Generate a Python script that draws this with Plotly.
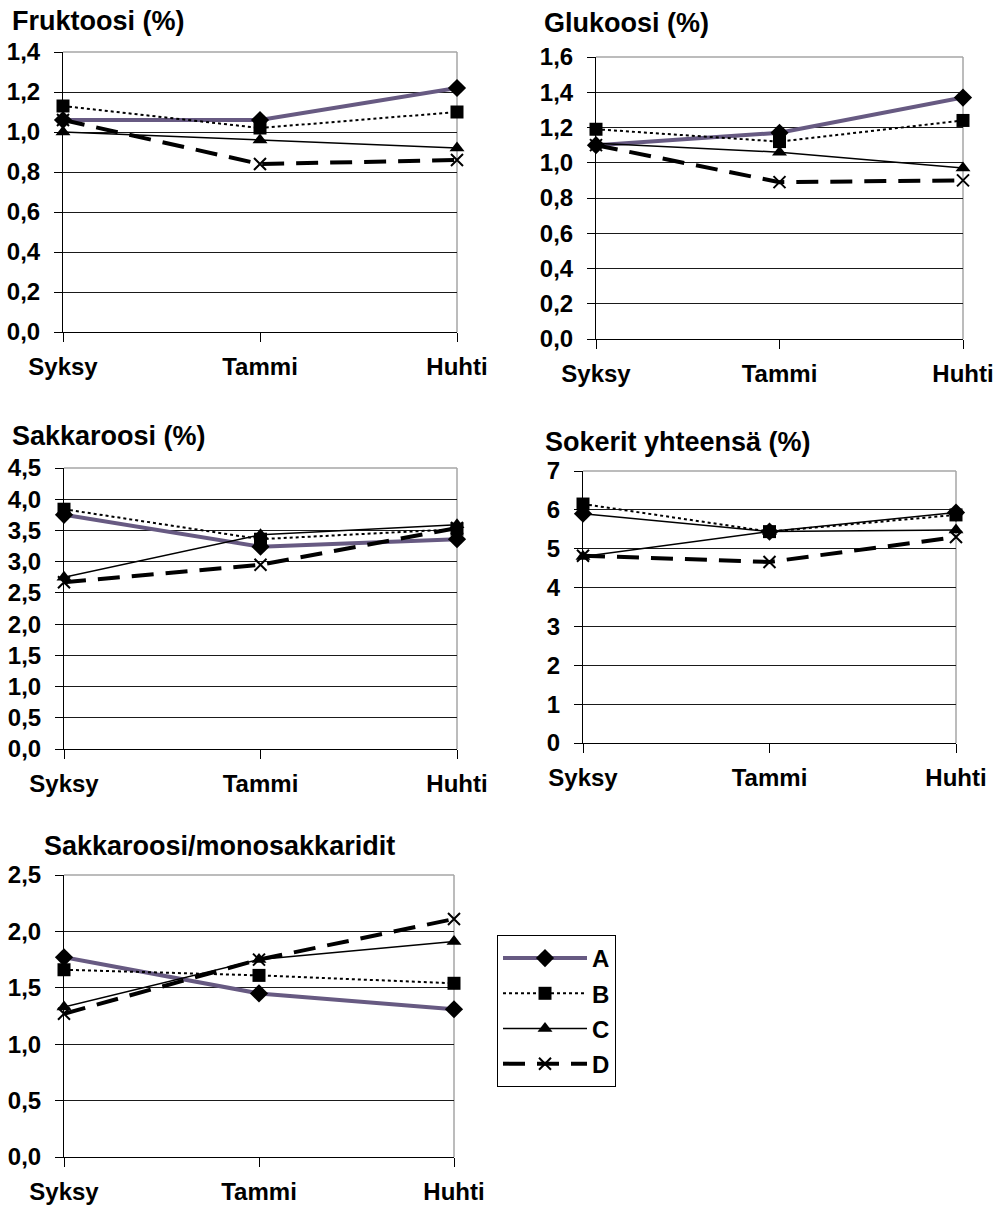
import plotly.graph_objects as go

categories = ["Syksy", "Tammi", "Huhti"]
series_names = ["A", "B", "C", "D"]

fruktoosi = {"A": [1.06, 1.06, 1.22], "B": [1.13, 1.02, 1.10], "C": [1.00, 0.96, 0.92], "D": [1.06, 0.84, 0.86]}
glukoosi = {"A": [1.10, 1.17, 1.37], "B": [1.19, 1.12, 1.24], "C": [1.11, 1.06, 0.97], "D": [1.10, 0.89, 0.90]}
sakkaroosi = {"A": [3.75, 3.24, 3.36], "B": [3.84, 3.36, 3.52], "C": [2.75, 3.43, 3.59], "D": [2.67, 2.95, 3.54]}
sokerit = {"A": [5.90, 5.44, 5.93], "B": [6.15, 5.44, 5.87], "C": [4.80, 5.44, 5.48], "D": [4.82, 4.66, 5.30]}
suhde = {"A": [1.77, 1.45, 1.31], "B": [1.66, 1.61, 1.54], "C": [1.33, 1.75, 1.91], "D": [1.27, 1.75, 2.11]}

titles = ["Fruktoosi (%)", "Glukoosi (%)", "Sakkaroosi (%)", "Sokerit yhteensä (%)", "Sakkaroosi/monosakkaridit"]
panels = [fruktoosi, glukoosi, sakkaroosi, sokerit, suhde]
y_max = [1.4, 1.6, 4.5, 7, 2.5]
y_step = [0.2, 0.2, 0.5, 1, 0.5]
y_fmt = [".1f", ".1f", ".1f", "d", ".1f"]

W, H = 1002, 1208
# plot area boxes in pixels: (left, right, top, bottom)
boxes = [(63, 457, 52, 332), (596, 963, 57, 339), (64, 457, 468, 749), (583, 956, 471, 743), (64, 454, 875, 1157)]
title_pos = [(10, 21), (542, 23), (10, 436), (543, 442), (42, 846)]

PURPLE = "#675a82"
FONT = "Liberation Sans"

styles = {
    "A": dict(line=dict(color=PURPLE, width=4), marker=dict(symbol="diamond", size=14, color="black")),
    "B": dict(line=dict(color="black", width=2, dash="dot"), marker=dict(symbol="square", size=13, color="black")),
    "C": dict(line=dict(color="black", width=1.5), marker=dict(symbol="triangle-up", size=13, color="black")),
    "D": dict(line=dict(color="black", width=4, dash="22px,12px"),
              marker=dict(symbol="x-thin", size=12, color="black", line=dict(color="black", width=2))),
}

fig = go.Figure()
layout = {}
shapes = []
annotations = []
xpos = [0, 1, 2]

for i, (data, box) in enumerate(zip(panels, boxes)):
    n = "" if i == 0 else str(i + 1)
    xa, ya = "x" + n, "y" + n
    l, r, t, b = box
    for s in series_names:
        st = {k: dict(v) for k, v in styles[s].items()}
        if i == 3 and s == "A":
            st["line"] = dict(color="black", width=1.5)
        fig.add_trace(go.Scatter(
            x=xpos, y=data[s], name=s, mode="lines+markers",
            line=st["line"], marker=st["marker"],
            xaxis=xa, yaxis=ya, cliponaxis=False,
            legendgroup=s, showlegend=(i == 4),
        ))
    layout["xaxis" + n] = dict(
        domain=[l / W, r / W], anchor=ya, range=[0, 2], automargin=False,
        tickvals=xpos, ticktext=categories,
        showgrid=False, zeroline=False, showline=True, linecolor="black", linewidth=1,
        ticks="outside", ticklen=9, tickcolor="black", tickwidth=1,
        tickfont=dict(family=FONT, size=24, color="black", weight="bold"),
        ticklabelstandoff=4, fixedrange=True,
    )
    layout["yaxis" + n] = dict(
        domain=[1 - b / H, 1 - t / H], anchor=xa, range=[0, y_max[i]], automargin=False,
        tickmode="linear", tick0=0, dtick=y_step[i], tickformat=y_fmt[i],
        showgrid=True, gridcolor="#1a1a1a", gridwidth=1,
        zeroline=False, showline=True, linecolor="black", linewidth=1,
        ticks="outside", ticklen=8, tickcolor="black", tickwidth=1,
        tickfont=dict(family=FONT, size=24, color="black", weight="bold"),
        ticklabelstandoff=9, fixedrange=True,
    )
    # grey top and right frame
    shapes.append(dict(type="line", xref=xa + " domain", yref=ya + " domain", x0=0, x1=1, y0=1, y1=1,
                       line=dict(color="#a6a6a6", width=1.5), layer="above"))
    shapes.append(dict(type="line", xref=xa + " domain", yref=ya + " domain", x0=1, x1=1, y0=0, y1=1,
                       line=dict(color="#a6a6a6", width=1.5), layer="below"))
    tx, ty = title_pos[i]
    annotations.append(dict(text=titles[i], xref="paper", yref="paper", x=tx / W, y=1 - ty / H,
                            xanchor="left", yanchor="middle", showarrow=False,
                            font=dict(family=FONT, size=27, color="black", weight="bold")))

fig.update_layout(
    width=W, height=H, margin=dict(l=0, r=0, t=0, b=0, autoexpand=False),
    paper_bgcolor="white", plot_bgcolor="white",
    separators=", ",
    shapes=shapes, annotations=annotations,
    legend=dict(x=497 / W, y=1 - 935 / H, xanchor="left", yanchor="top",
                bordercolor="black", borderwidth=1, bgcolor="white",
                font=dict(family=FONT, size=24, color="black", weight="bold"),
                traceorder="grouped", tracegroupgap=1, itemwidth=84),
    **layout,
)

fig.write_html("out.html")
